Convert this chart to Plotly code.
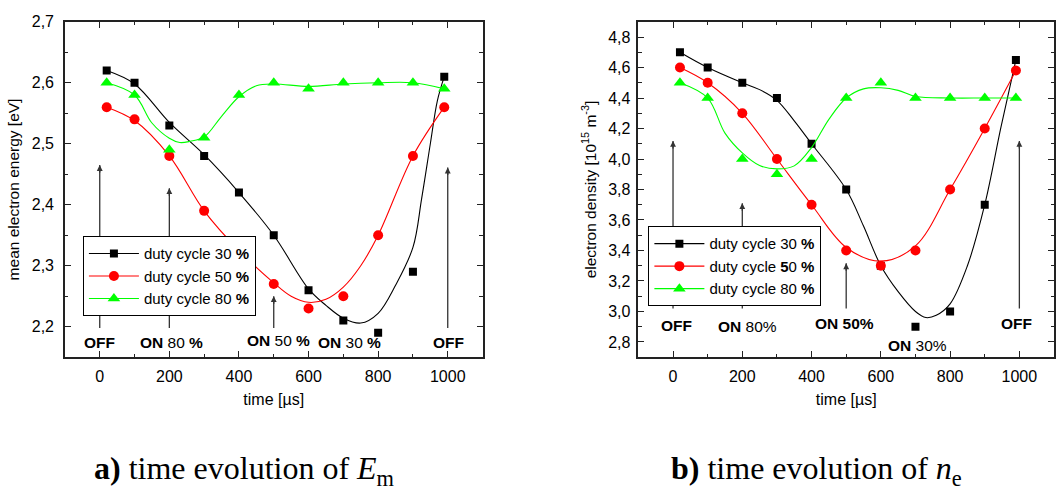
import plotly.graph_objects as go

# ---------------- measured points ----------------
t = [20, 100, 200, 300, 400, 500, 600, 700, 800, 900, 990]

em_dc30 = [2.62, 2.60, 2.53, 2.48, 2.42, 2.35, 2.26, 2.21, 2.19, 2.29, 2.61]
em_dc50 = [2.56, 2.54, 2.48, 2.39, 2.32, 2.27, 2.23, 2.25, 2.35, 2.48, 2.56]
em_dc80 = [2.60, 2.58, 2.49, 2.51, 2.58, 2.60, 2.59, 2.60, 2.60, 2.60, 2.59]

ne_dc30 = [4.70, 4.60, 4.50, 4.40, 4.10, 3.80, 3.30, 2.90, 3.00, 3.70, 4.65]
ne_dc50 = [4.60, 4.50, 4.30, 4.00, 3.70, 3.40, 3.30, 3.40, 3.80, 4.20, 4.58]
ne_dc80 = [4.50, 4.40, 4.00, 3.90, 4.00, 4.40, 4.50, 4.40, 4.40, 4.40, 4.40]

# ---------------- smoothed guide curves ----------------
em_fit30_t = [20, 100, 200, 300, 400, 500, 600, 650, 700, 750, 800, 850, 900, 925, 950, 970, 990]
em_fit30 = [2.62, 2.598, 2.535, 2.482, 2.42, 2.35, 2.262, 2.235, 2.214, 2.206, 2.222, 2.268,
            2.33, 2.41, 2.50, 2.57, 2.61]
em_fit50_t = [20, 100, 200, 300, 400, 500, 550, 600, 650, 700, 750, 800, 900, 990]
em_fit50 = [2.56, 2.538, 2.48, 2.39, 2.325, 2.272, 2.25, 2.24, 2.245, 2.265, 2.30, 2.35, 2.48, 2.56]
em_fit80_t = [20, 100, 150, 200, 230, 260, 300, 350, 400, 450, 500, 600, 700, 800, 900, 990]
em_fit80 = [2.60, 2.58, 2.534, 2.509, 2.502, 2.504, 2.511, 2.545, 2.577, 2.595, 2.598, 2.594,
            2.598, 2.60, 2.60, 2.59]

ne_fit30_t = [20, 100, 200, 250, 300, 350, 400, 500, 550, 600, 650, 700, 730, 760, 800, 850, 900, 947, 990]
ne_fit30 = [4.70, 4.60, 4.50, 4.455, 4.385, 4.25, 4.10, 3.80, 3.56, 3.30, 3.13, 3.00, 2.96, 2.975,
            3.05, 3.30, 3.70, 4.21, 4.65]
ne_fit50_t = [20, 100, 200, 300, 400, 500, 600, 700, 800, 900, 990]
ne_fit50 = [4.60, 4.50, 4.30, 4.00, 3.70, 3.42, 3.33, 3.43, 3.80, 4.20, 4.58]
ne_fit80_t = [20, 100, 150, 200, 250, 300, 350, 400, 450, 500, 550, 600, 650, 700, 800, 900, 990]
ne_fit80 = [4.50, 4.40, 4.17, 4.04, 3.957, 3.935, 3.955, 4.075, 4.26, 4.40, 4.46, 4.467, 4.45,
            4.41, 4.40, 4.40, 4.40]

# ---------------- axis ticks ----------------
x_ticks = [0, 200, 400, 600, 800, 1000]
x_tick_labels = ["0", "200", "400", "600", "800", "1000"]
em_ticks = [2.2, 2.3, 2.4, 2.5, 2.6, 2.7]
em_tick_labels = ["2,2", "2,3", "2,4", "2,5", "2,6", "2,7"]
ne_ticks = [2.8, 3.0, 3.2, 3.4, 3.6, 3.8, 4.0, 4.2, 4.4, 4.6, 4.8]
ne_tick_labels = ["2,8", "3,0", "3,2", "3,4", "3,6", "3,8", "4,0", "4,2", "4,4", "4,6", "4,8"]

# ---------------- switching markers (arrow x, arrow start, arrow end) ----------------
em_arrow_t = [0, 200, 500, 1000]
em_arrow_from = [2.198, 2.198, 2.198, 2.198]
em_arrow_to = [2.465, 2.427, 2.25, 2.461]
ne_arrow_t = [0, 200, 500, 1000]
ne_arrow_from = [3.02, 3.02, 3.02, 3.02]
ne_arrow_to = [4.118, 3.71, 3.316, 4.118]

em_labels = ["<b>OFF</b>", "<b>ON</b> 80 <b>%</b>", "<b>ON</b> 50 <b>%</b>", "<b>ON</b> 30 <b>%</b>", "<b>OFF</b>"]
em_label_t = [0, 206, 514, 717, 1003]
em_label_y = [2.174, 2.174, 2.177, 2.174, 2.174]
ne_labels = ["<b>OFF</b>", "<b>ON</b> 80%", "<b>ON 50%</b>", "<b>ON</b> 30%", "<b>OFF</b>"]
ne_label_t = [11, 216, 494, 707, 993]
ne_label_y = [2.905, 2.90, 2.92, 2.78, 2.92]

FONT = "Liberation Sans, Arial, sans-serif"
BLACK, RED, GREEN = "#000000", "#ff0000", "#00ff00"
AXIS_COLOR = "#222222"
ARROW_COLOR = "#333333"

fig = go.Figure()

series = [
    # (x-axis, y-axis, legend, name, points, fit_t, fit, color, symbol, size)
    ("x", "y", "legend", "duty cycle 30 <b>%</b>", em_dc30, em_fit30_t, em_fit30, BLACK, "square", 8),
    ("x", "y", "legend", "duty cycle 50 <b>%</b>", em_dc50, em_fit50_t, em_fit50, RED, "circle", 10),
    ("x", "y", "legend", "duty cycle 80 <b>%</b>", em_dc80, em_fit80_t, em_fit80, GREEN, "triangle-up", 11),
    ("x2", "y2", "legend2", "duty cycle 30 <b>%</b>", ne_dc30, ne_fit30_t, ne_fit30, BLACK, "square", 8),
    ("x2", "y2", "legend2", "duty cycle <b>5</b>0 <b>%</b>", ne_dc50, ne_fit50_t, ne_fit50, RED, "circle", 10),
    ("x2", "y2", "legend2", "duty cycle 80 <b>%</b>", ne_dc80, ne_fit80_t, ne_fit80, GREEN, "triangle-up", 11),
]

for xa, ya, leg, name, pts, ft, fv, col, sym, sz in series:
    fig.add_trace(go.Scatter(x=ft, y=fv, mode="lines", xaxis=xa, yaxis=ya,
                             line=dict(color=col, width=1.1, shape="spline", smoothing=1.0),
                             showlegend=False, hoverinfo="skip"))
    fig.add_trace(go.Scatter(x=t, y=pts, mode="markers", xaxis=xa, yaxis=ya,
                             marker=dict(color=col, symbol=sym, size=sz, line=dict(width=0)),
                             showlegend=False))
    # legend entry: line with marker
    fig.add_trace(go.Scatter(x=[None], y=[None], mode="lines+markers", xaxis=xa, yaxis=ya,
                             name=name, legend=leg,
                             line=dict(color=col, width=1.1),
                             marker=dict(color=col, symbol=sym, size=sz, line=dict(width=0))))

annotations = []
shapes = []


def add_arrows(ts, y0s, y1s, xref, yref):
    for tx, a, b in zip(ts, y0s, y1s):
        # shaft (kept under the legend box)
        shapes.append(dict(type="line", xref=xref, yref=yref, x0=tx, x1=tx, y0=a, y1=b,
                           line=dict(color=ARROW_COLOR, width=1.3), layer="above"))
        # head
        annotations.append(dict(x=tx, y=b, xref=xref, yref=yref, ax=0, ay=9,
                                text="", showarrow=True, arrowhead=2, arrowsize=0.9,
                                arrowwidth=1.3, arrowcolor=ARROW_COLOR, standoff=0))


def add_labels(texts, ts, ys, xref, yref):
    for txt, tx, ty in zip(texts, ts, ys):
        annotations.append(dict(x=tx, y=ty, xref=xref, yref=yref, text=txt,
                                showarrow=False, font=dict(family=FONT, size=15.5, color="#000")))


add_arrows(em_arrow_t, em_arrow_from, em_arrow_to, "x", "y")
add_arrows(ne_arrow_t, ne_arrow_from, ne_arrow_to, "x2", "y2")
add_labels(em_labels, em_label_t, em_label_y, "x", "y")
add_labels(ne_labels, ne_label_t, ne_label_y, "x2", "y2")

# panel captions
for txt, cx in [("<b>a)</b> time evolution of <i>E</i><sub>m</sub>", 245 / 1056),
                ("<b>b)</b> time evolution of <i>n</i><sub>e</sub>", 817 / 1056)]:
    annotations.append(dict(x=cx, y=1 - 470 / 491, xref="paper", yref="paper",
                            text=txt, showarrow=False, xanchor="center", yanchor="middle",
                            font=dict(family="Liberation Serif, serif", size=32, color="#000")))

axis_common = dict(
    showline=True, linecolor=AXIS_COLOR, linewidth=1.5, mirror="ticks",
    ticks="inside", ticklen=6, tickwidth=1.3, tickcolor=AXIS_COLOR,
    showgrid=False, zeroline=False,
    tickfont=dict(family=FONT, size=16, color="#000"),
)

xaxis_common = dict(axis_common, range=[-100, 1100], tickmode="array",
                    tickvals=x_ticks, ticktext=x_tick_labels,
                    minor=dict(dtick=100, tick0=0, ticks="inside", ticklen=3.5,
                               tickwidth=1.2, tickcolor=AXIS_COLOR),
                    title=dict(text="time [µs]", font=dict(family=FONT, size=16, color="#000"),
                               standoff=10),
                    ticklabelstandoff=4)

legend_common = dict(xanchor="left", yanchor="top", bgcolor="white", bordercolor="#000",
                     borderwidth=1, font=dict(family=FONT, size=15, color="#000"),
                     itemwidth=50, tracegroupgap=0)

fig.update_layout(
    width=1056, height=491,
    margin=dict(l=0, r=0, t=0, b=0),
    paper_bgcolor="white", plot_bgcolor="white",
    font=dict(family=FONT, color="#000"),
    xaxis=dict(xaxis_common, domain=[65 / 1056, 483 / 1056], anchor="y"),
    xaxis2=dict(xaxis_common, domain=[639 / 1056, 1055 / 1056], anchor="y2"),
    yaxis=dict(axis_common, domain=[136 / 491, 477 / 491], anchor="x",
               range=[2.15, 2.7], tickmode="array", tickvals=em_ticks, ticktext=em_tick_labels,
               minor=dict(dtick=0.05, tick0=2.15, ticks="inside", ticklen=3.5,
                          tickwidth=1.2, tickcolor=AXIS_COLOR),
               ticklabelstandoff=6,
               title=dict(text="mean electron energy [eV]",
                          font=dict(family=FONT, size=15.5, color="#000"), standoff=8)),
    yaxis2=dict(axis_common, domain=[136 / 491, 477 / 491], anchor="x2",
                range=[2.7, 4.9], tickmode="array", tickvals=ne_ticks, ticktext=ne_tick_labels,
                minor=dict(dtick=0.1, tick0=2.7, ticks="inside", ticklen=3.5,
                           tickwidth=1.2, tickcolor=AXIS_COLOR),
                ticklabelstandoff=3,
                title=dict(text="electron density [10<sup>15</sup> m<sup>-3</sup>]",
                           font=dict(family=FONT, size=15.5, color="#000"), standoff=8)),
    legend=dict(legend_common, x=83 / 1056, y=1 - 232 / 491),
    legend2=dict(legend_common, x=649 / 1056, y=1 - 222 / 491),
    annotations=annotations,
    shapes=shapes,
    showlegend=True,
)

fig.write_html("out.html")
